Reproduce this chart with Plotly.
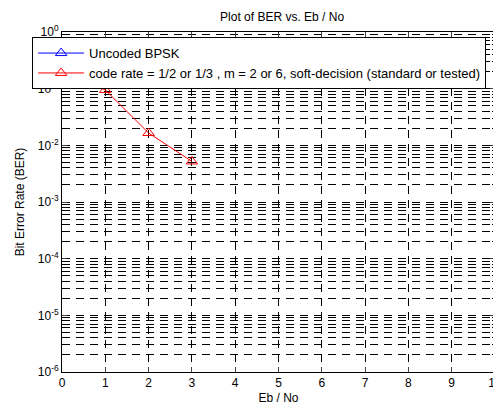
import plotly.graph_objects as go

# Data
ebno_coded = [0, 1, 2, 3]
ber_coded = [0.2, 0.095, 0.0165, 0.0052]
ebno_uncoded = [None]
ber_uncoded = [None]

x_ticks = list(range(0, 11))
y_exponents = [0, -1, -2, -3, -4, -5, -6]
y_tickvals = [10.0 ** e for e in y_exponents]
y_ticktext = ["10<sup>%d</sup>" % e for e in y_exponents]
y_minor = [m * 10.0 ** e for e in range(-6, 0) for m in range(2, 10)]

FONT = "Liberation Sans, Arial, Helvetica, sans-serif"

fig = go.Figure()
fig.add_trace(go.Scatter(
    x=ebno_uncoded, y=ber_uncoded, mode="lines+markers",
    name="Uncoded BPSK",
    line=dict(color="blue", width=1),
    marker=dict(symbol="triangle-up-open", size=10, color="blue", line=dict(width=1)),
))
fig.add_trace(go.Scatter(
    x=ebno_coded, y=ber_coded, mode="lines+markers",
    name="code rate = 1/2 or 1/3 , m = 2 or 6, soft-decision (standard or tested)",
    line=dict(color="red", width=1),
    marker=dict(symbol="triangle-up-open", size=10, color="red", line=dict(width=1)),
))

# page body has an 8px margin, so the figure is sized to fill the rest of the window
fig.update_layout(
    width=493, height=400,
    margin=dict(l=54, r=6, t=24, b=36, autoexpand=False),
    paper_bgcolor="white", plot_bgcolor="white",
    font=dict(family=FONT, size=12, color="black"),
    title=dict(text="Plot of BER vs. Eb / No", x=0.556, xanchor="center",
               y=0.978, yanchor="middle", font=dict(size=12)),
    legend=dict(x=-0.069, y=0.985, xanchor="left", yanchor="top",
                bgcolor="white", bordercolor="black", borderwidth=1,
                font=dict(size=13), itemwidth=46, tracegroupgap=0),
    showlegend=True,
)
fig.update_xaxes(
    range=[0, 10], tickvals=x_ticks, ticks="inside", ticklen=5,
    showline=True, linecolor="black", linewidth=1, mirror="allticks",
    showgrid=True, gridcolor="black", griddash="8px,6px", gridwidth=1,
    zeroline=False, tickfont=dict(size=12), automargin=False,
    ticklabeloverflow="allow",
    title=dict(text="Eb / No", font=dict(size=12), standoff=4),
)
fig.update_yaxes(
    type="log", range=[-6, 0], tickvals=y_tickvals, ticktext=y_ticktext,
    ticks="inside", ticklen=5,
    showline=True, linecolor="black", linewidth=1, mirror="allticks",
    showgrid=True, gridcolor="black", griddash="8px,6px", gridwidth=1,
    zeroline=False, tickfont=dict(size=12), automargin=False,
    ticklabeloverflow="allow",
    minor=dict(tickmode="array", tickvals=y_minor, ticks="inside", ticklen=3,
               tickcolor="black", showgrid=True, gridcolor="black",
               griddash="8px,6px", gridwidth=1),
    title=dict(text="Bit Error Rate (BER)", font=dict(size=12), standoff=10),
)

fig.write_html("out.html")
